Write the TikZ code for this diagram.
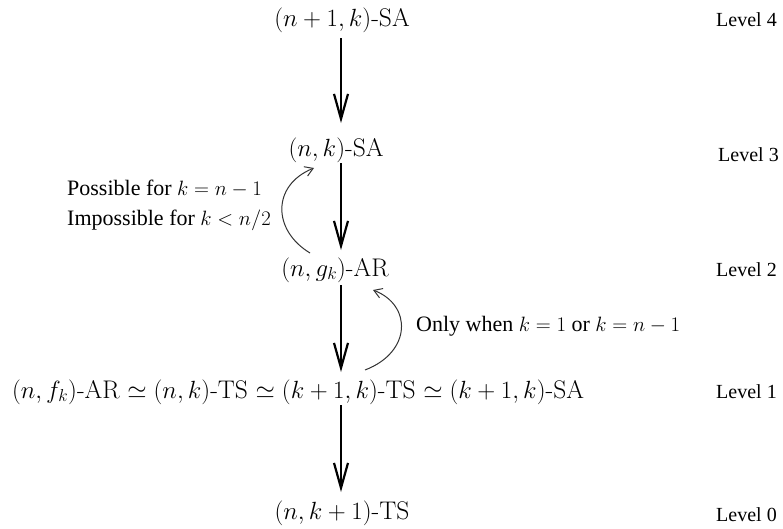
\documentclass[tikz,border=0pt]{standalone}
\usepackage[no-math]{fontspec}
\newfontfamily\tms{Liberation Serif}
\usetikzlibrary{arrows.meta}
\begin{document}
\begin{tikzpicture}[x=1pt,y=-1pt,
  main/.style={inner sep=0pt,font=\fontsize{25.5}{29}\selectfont},
  lvl/.style={inner sep=0pt,anchor=west,font=\tms\fontsize{20}{22}\selectfont},
  note/.style={inner sep=0pt,font=\tms\fontsize{22}{30}\selectfont},
  down/.style={line width=2.4pt,-{Straight Barb[length=25pt,width=14pt,line width=2.2pt]}},
  curvearrow/.style={line width=1pt,draw=black!80,-{Straight Barb[length=8pt,width=10pt,line width=1pt]}}]
\useasboundingbox (0,0) rectangle (783,528);
\node[main] (l4) at (342,20) {$(n+1,k)$-SA};
\node[main] (l3) at (336,150) {$(n,k)$-SA};
\node[main] (l2) at (335,270) {$(n,g_k)$-AR};
\node[main] (l1) at (298,392) {$(n,f_k)$-AR $\simeq (n,k)$-TS $\simeq (k+1,k)$-TS $\simeq (k+1,k)$-SA};
\node[main] (l0) at (342,513) {$(n,k+1)$-TS};
\node[lvl] (v4) at (716,20) {Level 4};
\node[lvl] (v3) at (718,155) {Level 3};
\node[lvl] (v2) at (716,270) {Level 2};
\node[lvl] (v1) at (716,392) {Level 1};
\node[lvl] (v0) at (716,515) {Level 0};
\coordinate (a4) at (341,38);
\coordinate (b4) at (341,123);
\coordinate (a3) at (341,163);
\coordinate (b3) at (341,250);
\coordinate (a2) at (341,285);
\coordinate (b2) at (341,372);
\coordinate (a1) at (341,405);
\coordinate (b1) at (341,492);
\draw[down] (a4) -- (b4);
\draw[down] (a3) -- (b3);
\draw[down] (a2) -- (b2);
\draw[down] (a1) -- (b1);
\coordinate (p1) at (310,253);
\coordinate (p2) at (314,168);
\draw[curvearrow] (p1) .. controls (272,230) and (272,185) .. (p2);
\coordinate (q1) at (365,370);
\coordinate (q2) at (373,290);
\draw[curvearrow] (q1) .. controls (412,352) and (412,305) .. (q2);
\node[note,align=left,anchor=west] (t1) at (67,205) {Possible for $k=n-1$\\Impossible for $k<n/2$};
\node[note,anchor=west] (t2) at (416,326) {Only when $k=1$ or $k=n-1$};
\end{tikzpicture}
\end{document}
